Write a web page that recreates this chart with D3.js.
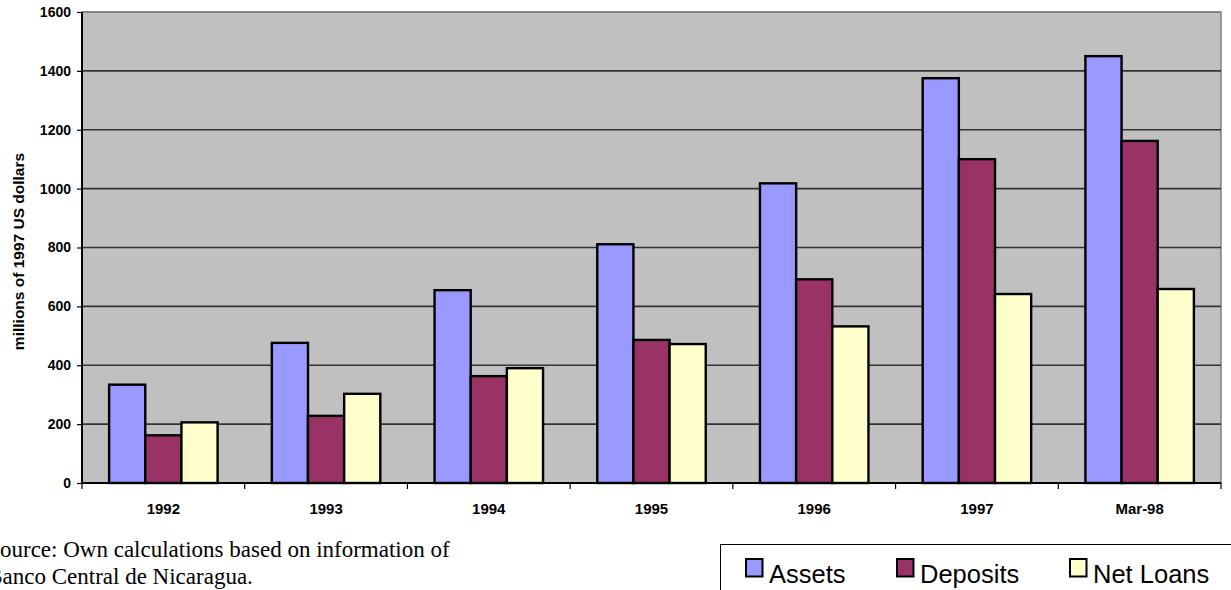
<!DOCTYPE html>
<html>
<head>
<meta charset="utf-8">
<script src="https://cdn.jsdelivr.net/npm/d3@7/dist/d3.min.js"></script>
<style>
  html, body { margin: 0; padding: 0; background: #ffffff; overflow: hidden; }
  svg { display: block; }
</style>
</head>
<body>
<script>
// Banking system aggregates, millions of 1997 US dollars
const categories = ["1992", "1993", "1994", "1995", "1996", "1997", "Mar-98"];
const seriesNames = ["Assets", "Deposits", "Net Loans"];
const assets   = [334, 476, 655, 811, 1018, 1375, 1450];
const deposits = [162, 228, 363, 486, 692, 1100, 1162];
const netLoans = [206, 303, 390, 472, 532, 642, 659];
const yTicks = [0, 200, 400, 600, 800, 1000, 1200, 1400, 1600];
const colors = ["#9999FF", "#993366", "#FFFFCC"];

const W = 1231, H = 590;
const plot = { left: 82, right: 1221, top: 12, bottom: 483 };

const svg = d3.select("body").append("svg").attr("width", W).attr("height", H);

const x0 = d3.scaleBand().domain(categories).range([plot.left, plot.right]).padding(0);
const x1 = d3.scaleBand().domain(seriesNames).range([0, x0.bandwidth()])
  .paddingInner(0).paddingOuter(0.75);
const y = d3.scaleLinear().domain([0, 1600]).range([plot.bottom, plot.top]);

// plot background
svg.append("rect")
  .attr("x", plot.left).attr("y", plot.top)
  .attr("width", plot.right - plot.left).attr("height", plot.bottom - plot.top)
  .attr("fill", "#C0C0C0").attr("stroke", "#808080").attr("stroke-width", 1.5);

// gridlines
svg.append("g").selectAll("line")
  .data(yTicks.filter(d => d > 0))
  .join("line")
  .attr("x1", plot.left).attr("x2", plot.right)
  .attr("y1", d => y(d)).attr("y2", d => y(d))
  .attr("stroke", d => d === 1600 ? "#808080" : "#333333").attr("stroke-width", 1.6);

// bars
const table = categories.map((c, i) => ({
  cat: c,
  values: [assets[i], deposits[i], netLoans[i]]
}));

svg.append("g").selectAll("g")
  .data(table)
  .join("g")
  .attr("transform", d => `translate(${x0(d.cat)},0)`)
  .selectAll("rect")
  .data(d => d.values.map((v, k) => ({ name: seriesNames[k], v, k })))
  .join("rect")
  .attr("x", d => x1(d.name))
  .attr("width", x1.bandwidth())
  .attr("y", d => y(d.v))
  .attr("height", d => y(0) - y(d.v))
  .attr("fill", d => colors[d.k])
  .attr("stroke", "#000").attr("stroke-width", 2.4);

// y axis
const yAxis = d3.axisLeft(y).tickValues(yTicks).tickFormat(d3.format("d")).tickSize(5).tickPadding(6);
const gy = svg.append("g").attr("transform", `translate(${plot.left},0)`).call(yAxis);
gy.select(".domain").attr("stroke", "#000").attr("stroke-width", 2).attr("d", `M0,${plot.top}V${plot.bottom}`);
gy.selectAll(".tick line").attr("stroke", "#000").attr("stroke-width", 1.2);
gy.selectAll(".tick text")
  .attr("font-family", "'Liberation Sans', Arial, sans-serif")
  .attr("font-weight", "bold").attr("font-size", 14).attr("fill", "#000");

// x axis with ticks at category boundaries
const gx = svg.append("g").attr("transform", `translate(0,${plot.bottom})`);
gx.append("line").attr("x1", plot.left).attr("x2", plot.right)
  .attr("stroke", "#000").attr("stroke-width", 2);
gx.selectAll("line.tk")
  .data(categories.concat(["end"]))
  .join("line").attr("class", "tk")
  .attr("x1", (d, i) => i < categories.length ? x0(d) : plot.right)
  .attr("x2", (d, i) => i < categories.length ? x0(d) : plot.right)
  .attr("y1", 0).attr("y2", 6)
  .attr("stroke", "#000").attr("stroke-width", 1.2);
gx.selectAll("text")
  .data(categories)
  .join("text")
  .attr("x", d => x0(d) + x0.bandwidth() / 2)
  .attr("y", 31)
  .attr("text-anchor", "middle")
  .attr("font-family", "'Liberation Sans', Arial, sans-serif")
  .attr("font-weight", "bold").attr("font-size", 15).attr("fill", "#000")
  .text(d => d);

// y axis title
svg.append("text")
  .attr("transform", `translate(23.5,${(plot.top + plot.bottom) / 2 + 4}) rotate(-90)`)
  .attr("text-anchor", "middle")
  .attr("font-family", "'Liberation Sans', Arial, sans-serif")
  .attr("font-weight", "bold").attr("font-size", 15.5).attr("fill", "#000")
  .text("millions of 1997 US dollars");

// source note
const note = svg.append("g")
  .attr("font-family", "'Liberation Serif', 'Times New Roman', serif")
  .attr("font-size", 23).attr("fill", "#000");
note.append("text").attr("x", -12.8).attr("y", 557).text("Source: Own calculations based on information of");
note.append("text").attr("x", -12.8).attr("y", 584).text("Banco Central de Nicaragua.");

// legend
const lg = svg.append("g");
lg.append("rect").attr("x", 720.5).attr("y", 544.5).attr("width", 540).attr("height", 80)
  .attr("fill", "#fff").attr("stroke", "#000").attr("stroke-width", 1);
const legendX = [746, 897, 1070];
const items = lg.selectAll("g.item").data(seriesNames).join("g").attr("class", "item")
  .attr("transform", (d, i) => `translate(${legendX[i]},559)`);
items.append("rect").attr("width", 16.5).attr("height", 17.5)
  .attr("fill", (d, i) => colors[i]).attr("stroke", "#000").attr("stroke-width", 2);
items.append("text").attr("x", 23).attr("y", 24)
  .attr("font-family", "'Liberation Sans', Arial, sans-serif")
  .attr("font-size", 25.5).attr("fill", "#000")
  .text(d => d);
</script>
</body>
</html>
